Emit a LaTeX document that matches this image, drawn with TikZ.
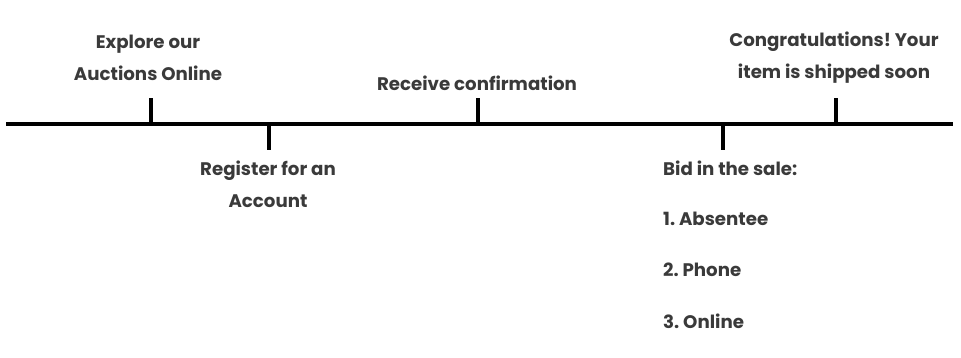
\documentclass[tikz,border=0pt]{standalone}
\usepackage{fontspec}
\setmainfont{Poppins}[BoldFont=* Bold]
\frenchspacing
\definecolor{txtgray}{HTML}{3A3A3A}
\tikzset{lbl/.style={font=\bfseries\fontsize{18.2}{32}\selectfont,text=txtgray,inner sep=0pt,align=center},
  tick/.style={line width=3.4pt}}
\begin{document}
\begin{tikzpicture}[x=1pt,y=-1pt]
  \useasboundingbox (0,0) rectangle (961,357);
  % main line
  \coordinate (l) at (6,124); \coordinate (r) at (953,124);
  \draw[line width=3.6pt] (l)--(r);
  % ticks
  \coordinate (t1) at (151,124); \coordinate (e1) at (151,98);
  \coordinate (t2) at (269,124); \coordinate (e2) at (269,150);
  \coordinate (t3) at (478,124); \coordinate (e3) at (478,98);
  \coordinate (t4) at (723,124); \coordinate (e4) at (723,150);
  \coordinate (t5) at (836,124); \coordinate (e5) at (836,98);
  \foreach \i in {1,...,5} \draw[tick] (t\i)--(e\i);
  % labels
  \node[lbl] (explore) at (148,58) {Explore our\\Auctions Online};
  \node[lbl] (register) at (268,184) {Register for an\\Account};
  \node[lbl] (receive) at (477,83) {Receive confirmation};
  \node[lbl] (congrats) at (834,58) {Congratulations! Your\\item is shipped soon};
  \node[lbl,anchor=west] (bid) at (663,168) {Bid in the sale:};
  \node[lbl,anchor=west] (absentee) at (663,219) {1. Absentee};
  \node[lbl,anchor=west] (phone) at (663,270) {2. Phone};
  \node[lbl,anchor=west] (online) at (663,321) {3. Online};
\end{tikzpicture}
\end{document}
